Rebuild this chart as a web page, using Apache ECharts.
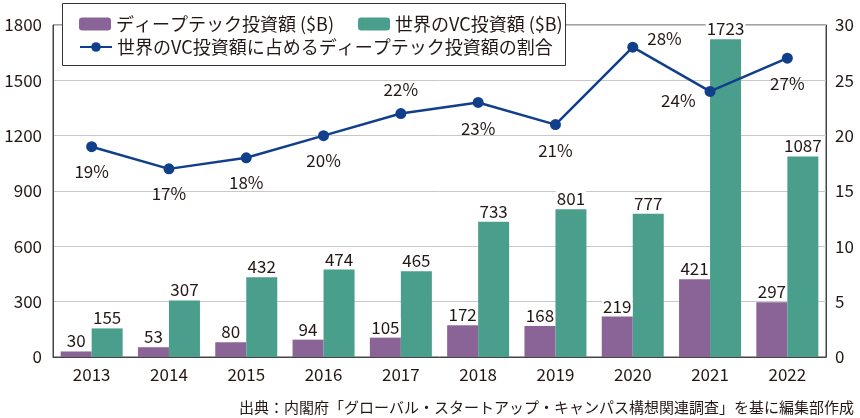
<!DOCTYPE html>
<html><head><meta charset="utf-8">
<script src="https://cdn.jsdelivr.net/npm/echarts@6/dist/echarts.min.js"></script>
<style>html,body{margin:0;padding:0;background:#fff}#c{width:860px;height:418px}</style>
</head><body><div id="c"></div>
<script>
const years = ['2013','2014','2015','2016','2017','2018','2019','2020','2021','2022'];
const deepTech = [30,53,80,94,105,172,168,219,421,297];
const globalVC = [155,307,432,474,465,733,801,777,1723,1087];
const ratio = [19,17,18,20,22,23,21,28,24,27];
const leftTicks = [0,300,600,900,1200,1500,1800];
const rightTicks = [0,5,10,15,20,25,30];
const ratioLabelPos = ['bottom','bottom','bottom','bottom','top','bottom','bottom','right','left','bottom'];
const ratioLabelOffset = [[0,2],[0,2],[0,2],[0,2],[0,-1],[0,3],[0,3],[0,-9],[0,9],[0,2]];
const names = ['ディープテック投資額 ($B)','世界のVC投資額 ($B)','世界のVC投資額に占めるディープテック投資額の割合'];
const source = '出典：内閣府「グローバル・スタートアップ・キャンパス構想関連調査」を基に編集部作成';

const FONT = '"Noto Sans CJK JP", "Noto Sans", sans-serif';
const TXT = '#231815';
const chart = echarts.init(document.getElementById('c'), null, {renderer:'canvas'});
chart.setOption({
  animation:false,
  textStyle:{fontFamily:FONT, color:TXT},
  grid:{left:53, right:34, top:25, bottom:61, show:true, borderColor:'#444', borderWidth:1},
  graphic:[
    {type:'rect', left:62, top:3, z:10, shape:{width:503, height:62}, style:{fill:'#fff', stroke:'#333', lineWidth:1}},
    {type:'text', right:6, bottom:3, z:10, style:{text:source, font:'15px '+FONT, fill:TXT}}
  ],
  legend:[
    {data:[names[0],names[1]], left:74, top:10, z:11, itemWidth:32, itemHeight:13, itemGap:24,
     textStyle:{fontSize:18, color:TXT, fontFamily:FONT}},
    {data:[names[2]], left:74, top:33, z:11, itemWidth:32, itemHeight:12,
     textStyle:{fontSize:18, color:TXT, fontFamily:FONT}}
  ],
  xAxis:{type:'category', data:years,
    axisLine:{lineStyle:{color:'#444'}}, axisTick:{show:false},
    axisLabel:{fontSize:17, color:TXT, margin:9}},
  yAxis:[
    {type:'value', min:0, max:1800, interval:300,
     axisLine:{show:true, lineStyle:{color:'#444'}}, axisTick:{show:false},
     splitLine:{lineStyle:{color:'#c8c8c8'}},
     axisLabel:{fontSize:17, color:TXT, margin:11, formatter:v=>String(v)}},
    {type:'value', min:0, max:30, interval:5,
     axisLine:{show:true, lineStyle:{color:'#444'}}, axisTick:{show:false},
     splitLine:{show:false},
     axisLabel:{fontSize:17, color:TXT, margin:9}}
  ],
  series:[
    {name:names[0], type:'bar', data:deepTech, barWidth:31, barGap:'0%',
     itemStyle:{color:'#8b6497'},
     label:{show:true, position:'top', fontSize:17, color:TXT, distance:2, backgroundColor:'#fff', padding:[0,1]}},
    {name:names[1], type:'bar', data:globalVC, barWidth:31,
     itemStyle:{color:'#4a9e8c'},
     label:{show:true, position:'top', fontSize:17, color:TXT, distance:2, backgroundColor:'#fff', padding:[0,1]}},
    {name:names[2], type:'line', yAxisIndex:1, z:5,
     data:ratio.map((v,i)=>({value:v, label:{position:ratioLabelPos[i], offset:ratioLabelOffset[i]}})),
     symbol:'circle', symbolSize:11,
     lineStyle:{color:'#123f8c', width:2.5}, itemStyle:{color:'#123f8c'},
     label:{show:true, fontSize:17, color:TXT, distance:9, formatter:p=>p.value+'%'}}
  ]
});
</script></body></html>
